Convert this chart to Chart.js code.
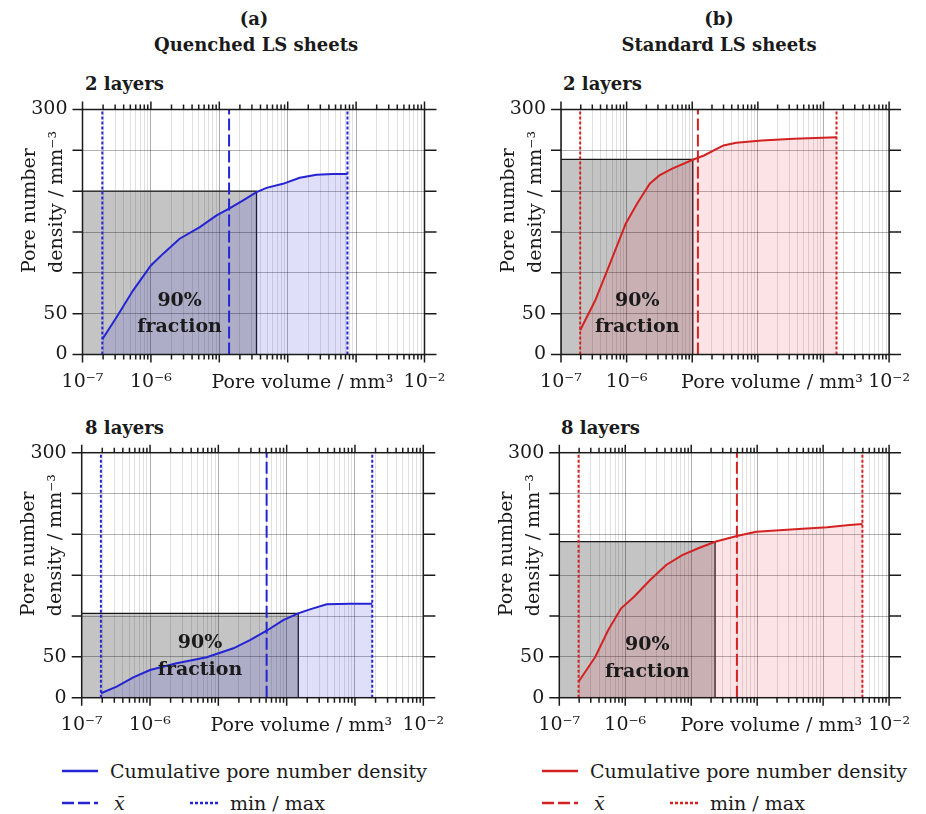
<!DOCTYPE html>
<html>
<head>
<meta charset="utf-8">
<title>Cumulative pore number density</title>
<script src="https://cdn.jsdelivr.net/npm/chart.js"></script>
<style>
html,body{margin:0;padding:0;background:#fff;}
body{width:926px;height:814px;position:relative;overflow:hidden;font-family:"DejaVu Serif",serif;color:#1a1a1a;}
.cv{position:absolute;}
.t{position:absolute;white-space:nowrap;font-size:19px;line-height:24px;}
.b{font-weight:bold;font-size:18px;}
.c{text-align:center;}
.sw{position:absolute;}
</style>
</head>
<body>
<div class="t b c" style="left:154px;top:6px;width:200px;line-height:26px">(a)<br>Quenched LS sheets</div>
<div class="t b c" style="left:619px;top:6px;width:200px;line-height:26px">(b)<br>Standard LS sheets</div>
<div class="t b" style="left:85px;top:72px">2 layers</div>
<div class="t b" style="left:563px;top:72px">2 layers</div>
<div class="t b" style="left:85px;top:416px">8 layers</div>
<div class="t b" style="left:561px;top:416px">8 layers</div>

<canvas id="c1" class="cv" width="463" height="345" style="left:0px;top:60px"></canvas>
<canvas id="c2" class="cv" width="463" height="345" style="left:463px;top:60px"></canvas>
<canvas id="c3" class="cv" width="463" height="345" style="left:0px;top:403px"></canvas>
<canvas id="c4" class="cv" width="463" height="345" style="left:463px;top:403px"></canvas>

<!-- legends -->
<svg class="sw" style="left:62px;top:766px" width="36" height="10"><line x1="0" y1="5" x2="36" y2="5" stroke="#2424d2" stroke-width="2.5"/></svg>
<div class="t" style="left:110px;top:759px">Cumulative pore number density</div>
<svg class="sw" style="left:62px;top:798px" width="36" height="10"><line x1="0" y1="5" x2="36" y2="5" stroke="#2424d2" stroke-width="2.5" stroke-dasharray="12,4"/></svg>
<div class="t" style="left:114px;top:791px"><i>x̄</i></div>
<svg class="sw" style="left:190px;top:798px" width="28" height="10"><line x1="0" y1="5" x2="28" y2="5" stroke="#2424d2" stroke-width="2.5" stroke-dasharray="3,2"/></svg>
<div class="t" style="left:230px;top:791px">min / max</div>

<svg class="sw" style="left:542px;top:766px" width="36" height="10"><line x1="0" y1="5" x2="36" y2="5" stroke="#d42222" stroke-width="2.5"/></svg>
<div class="t" style="left:590px;top:759px">Cumulative pore number density</div>
<svg class="sw" style="left:542px;top:798px" width="36" height="10"><line x1="0" y1="5" x2="36" y2="5" stroke="#d42222" stroke-width="2.5" stroke-dasharray="12,4"/></svg>
<div class="t" style="left:594px;top:791px"><i>x̄</i></div>
<svg class="sw" style="left:670px;top:798px" width="28" height="10"><line x1="0" y1="5" x2="28" y2="5" stroke="#d42222" stroke-width="2.5" stroke-dasharray="3,2"/></svg>
<div class="t" style="left:710px;top:791px">min / max</div>

<script>
// ---------- axis definitions ----------
const X_MIN = 1e-7, X_MAX = 1e-2;
const X_LABEL_EXPONENTS = [-7, -6, -2];
const Y_TICKS = [0, 50, 100, 150, 200, 250, 300];
const Y_LABELS = ['0', '50', '', '', '', '', '300'];

// ---------- (a) Quenched LS sheets, 2 layers ----------
const q2Volume  = [1.95e-7, 3.16e-7, 5.5e-7, 1.0e-6, 1.51e-6, 2.63e-6, 5.19e-6, 9.12e-6, 1.39e-5, 2.23e-5, 3.5e-5, 4.9e-5, 8.5e-5, 1.5e-4, 2.63e-4, 4.57e-4, 7.48e-4];
const q2Density = [18.7, 46, 78.6, 109, 123.5, 141.8, 156, 170.4, 178.5, 188.7, 198.9, 204, 209, 216.5, 220, 221, 221];
const q2MinMeanMax = [1.95e-7, 1.39e-5, 7.48e-4];
const q2Fraction90 = [3.5e-5, 200];

// ---------- (b) Standard LS sheets, 2 layers ----------
const s2Volume  = [1.96e-7, 3.33e-7, 5.83e-7, 9.68e-7, 1.44e-6, 2.25e-6, 3.16e-6, 4.95e-6, 1.02e-5, 1.51e-5, 2.99e-5, 4.68e-5, 1.15e-4, 3.55e-4, 1.58e-3];
const s2Density = [29.7, 66.4, 115.3, 160.2, 184.7, 209.1, 219.3, 227.5, 238.5, 243.7, 256, 259.3, 262, 264.1, 266.1];
const s2MinMeanMax = [1.96e-7, 1.22e-5, 1.58e-3];
const s2Fraction90 = [1.02e-5, 239];

// ---------- (a) Quenched LS sheets, 8 layers ----------
const q8Volume  = [1.91e-7, 3.25e-7, 5.69e-7, 1.0e-6, 2.45e-6, 6.76e-6, 1.66e-5, 2.9e-5, 5.09e-5, 8.91e-5, 1.48e-4, 2.19e-4, 3.85e-4, 8.45e-4, 1.79e-3];
const q8Density = [5.4, 13.5, 25, 33.9, 42.1, 49.5, 60.5, 70.6, 82, 95.1, 103.3, 108.2, 114.3, 115, 115];
const q8MinMeanMax = [1.91e-7, 5.09e-5, 1.79e-3];
const q8Fraction90 = [1.48e-4, 103.3];

// ---------- (b) Standard LS sheets, 8 layers ----------
const s8Volume  = [1.96e-7, 3.52e-7, 5.52e-7, 8.65e-7, 1.36e-6, 2.38e-6, 4.17e-6, 7.31e-6, 1.28e-5, 2.3e-5, 4.93e-5, 9.66e-5, 3.72e-4, 1.15e-3, 2.51e-3, 3.94e-3];
const s8Density = [19.6, 50.2, 82.9, 109.5, 123.7, 144.1, 162.5, 174.7, 183, 191, 198, 203.3, 206.2, 208.7, 211.5, 212.7];
const s8MinMeanMax = [1.96e-7, 4.93e-5, 3.94e-3];
const s8Fraction90 = [2.3e-5, 191];

// ---------- styles ----------
const BLUE = '#2424d2', BLUE_FILL = 'rgba(40,40,220,0.15)';
const RED = '#d42222', RED_FILL = 'rgba(230,40,60,0.13)';
const FONT = '"DejaVu Serif", serif';
Chart.defaults.font.family = FONT;
Chart.defaults.font.size = 19;
Chart.defaults.color = '#1a1a1a';

// panel layout: canvas id, plot area inside canvas [left, right, top, bottom], label anchor (data units)
const PANELS = [
  {id:'c1', area:[82.5, 424.5, 49.5, 294.5], vol:q2Volume, dens:q2Density, stats:q2MinMeanMax, frac:q2Fraction90, color:BLUE, fill:BLUE_FILL, lab:[2.63e-6, 66, 33]},
  {id:'c2', area:[98, 439, 49.5, 294.5],     vol:s2Volume, dens:s2Density, stats:s2MinMeanMax, frac:s2Fraction90, color:RED,  fill:RED_FILL,  lab:[1.45e-6, 66, 33]},
  {id:'c3', area:[81.7, 423.3, 49.7, 294.7], vol:q8Volume, dens:q8Density, stats:q8MinMeanMax, frac:q8Fraction90, color:BLUE, fill:BLUE_FILL, lab:[5.4e-6, 67, 34]},
  {id:'c4', area:[96.3, 438, 49.7, 294.7],   vol:s8Volume, dens:s8Density, stats:s8MinMeanMax, frac:s8Fraction90, color:RED,  fill:RED_FILL,  lab:[2.15e-6, 64.5, 31.5]}
];

const SUP = {'-':'⁻','0':'⁰','1':'¹','2':'²','3':'³','4':'⁴','5':'⁵','6':'⁶','7':'⁷','8':'⁸','9':'⁹'};
const sup = n => String(n).split('').map(c => SUP[c]).join('');
const expOf = v => Math.round(Math.log10(v));
const isDecade = v => Math.abs(v / Math.pow(10, expOf(v)) - 1) < 1e-6;

function makeFrame(p) {
  return {
    id: 'frame_' + p.id,
    afterDatasetsDraw(chart) {
      const {ctx, chartArea:{left, right, top, bottom}, scales:{x, y}} = chart;
      ctx.save();
      ctx.strokeStyle = '#1a1a1a';
      ctx.lineWidth = 1.5;
      ctx.strokeRect(left, top, right - left, bottom - top);
      ctx.beginPath();
      y.ticks.forEach(t => {
        const py = y.getPixelForValue(t.value);
        ctx.moveTo(left - 10, py); ctx.lineTo(left, py);
        ctx.moveTo(right, py); ctx.lineTo(right + 12, py);
      });
      x.ticks.forEach(t => {
        const px = x.getPixelForValue(t.value);
        const L = isDecade(t.value) ? 8 : 5;
        ctx.moveTo(px, top); ctx.lineTo(px, top - L);
        ctx.moveTo(px, bottom); ctx.lineTo(px, bottom + L);
      });
      ctx.stroke();

      // axis titles
      ctx.fillStyle = '#1a1a1a';
      ctx.font = '19px ' + FONT;
      ctx.textAlign = 'center';
      ctx.textBaseline = 'alphabetic';
      ctx.fillText('Pore volume / mm³', left + 0.643 * (right - left), bottom + 33.5);
      ctx.save();
      ctx.textAlign = 'left';
      ctx.translate(left - 47.5, bottom - 81.5);
      ctx.rotate(-Math.PI / 2);
      ctx.fillText('Pore number', 0, 0);
      ctx.restore();
      ctx.save();
      ctx.textAlign = 'left';
      ctx.translate(left - 20.5, bottom - 81.5);
      ctx.rotate(-Math.PI / 2);
      ctx.fillText('density / mm⁻³', 0, 0);
      ctx.restore();

      // 90 % fraction label
      ctx.font = 'bold 19px ' + FONT;
      ctx.textAlign = 'center';
      ctx.textBaseline = 'middle';
      const lx = x.getPixelForValue(p.lab[0]);
      ctx.fillText('90%', lx, y.getPixelForValue(p.lab[1]));
      ctx.fillText('fraction', lx, y.getPixelForValue(p.lab[2]));
      ctx.restore();
    }
  };
}

function build(p) {
  const [minV, meanV, maxV] = p.stats;
  const [fracV, fracD] = p.frac;
  const curve = p.vol.map((v, i) => ({x: v, y: p.dens[i]}));
  const vline = v => [{x: v, y: 0}, {x: v, y: 300}];
  const canvas = document.getElementById(p.id);
  const [aL, aR, aT, aB] = p.area;
  new Chart(canvas, {
    type: 'line',
    data: {datasets: [
      {label: '90% fraction', data: [{x: X_MIN, y: fracD}, {x: fracV, y: fracD}, {x: fracV, y: 0}],
       borderColor: '#1a1a1a', borderWidth: 1.3, backgroundColor: 'rgba(0,0,0,0.23)', fill: 'origin',
       pointRadius: 0, tension: 0, order: 3},
      {label: 'Cumulative pore number density', data: curve, borderColor: p.color, borderWidth: 2,
       backgroundColor: p.fill, fill: 'origin', pointRadius: 0, tension: 0, order: 2},
      {label: 'mean', data: vline(meanV), borderColor: p.color, borderWidth: 2, borderDash: [12, 4], pointRadius: 0, fill: false, order: 1},
      {label: 'min', data: vline(minV), borderColor: p.color, borderWidth: 2, borderDash: [3, 2], pointRadius: 0, fill: false, order: 1},
      {label: 'max', data: vline(maxV), borderColor: p.color, borderWidth: 2, borderDash: [3, 2], pointRadius: 0, fill: false, order: 1}
    ]},
    options: {
      responsive: false,
      animation: false,
      layout: {padding: {left: 0, right: canvas.width - aR, top: aT, bottom: 0}},
      plugins: {legend: {display: false}, tooltip: {enabled: false}},
      scales: {
        x: {
          type: 'logarithmic', min: X_MIN, max: X_MAX,
          afterBuildTicks: s => {
            const t = [];
            for (let e = -7; e <= -2; e++) {
              for (let m = 1; m <= 9; m++) {
                if (e === -2 && m > 1) break;
                t.push({value: m * Math.pow(10, e)});
              }
            }
            s.ticks = t;
          },
          afterFit: s => { s.height = canvas.height - aB; },
          ticks: {
            autoSkip: false, maxRotation: 0, padding: 16,
            callback: v => (isDecade(v) && X_LABEL_EXPONENTS.includes(expOf(v))) ? '10' + sup(expOf(v)) : ''
          },
          grid: {
            drawTicks: false, lineWidth: 1,
            color: c => (c.tick && isDecade(c.tick.value)) ? 'rgba(0,0,0,0.32)' : 'rgba(0,0,0,0.12)'
          },
          border: {display: false}
        },
        y: {
          min: 0, max: 300,
          afterBuildTicks: s => { s.ticks = Y_TICKS.map(v => ({value: v})); },
          afterFit: s => { s.width = aL; },
          ticks: {padding: 15, callback: v => Y_LABELS[Y_TICKS.indexOf(v)]},
          grid: {drawTicks: false, lineWidth: 1, color: 'rgba(0,0,0,0.3)'},
          border: {display: false}
        }
      }
    },
    plugins: [makeFrame(p)]
  });
}

PANELS.forEach(build);
</script>
</body>
</html>
